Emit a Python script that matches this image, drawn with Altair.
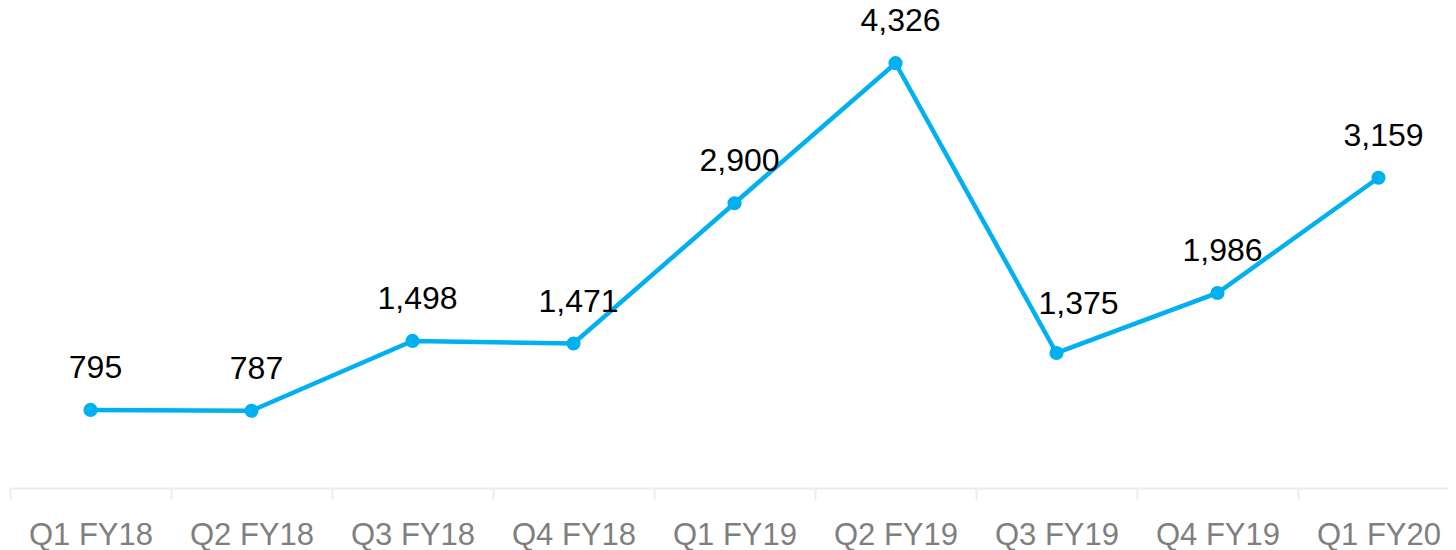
import altair as alt
import pandas as pd

quarters = ["Q1 FY18", "Q2 FY18", "Q3 FY18", "Q4 FY18", "Q1 FY19",
            "Q2 FY19", "Q3 FY19", "Q4 FY19", "Q1 FY20"]
values = [795, 787, 1498, 1471, 2900, 4326, 1375, 1986, 3159]

df = pd.DataFrame({"quarter": quarters, "value": values})

x = alt.X("quarter:N", sort=quarters, title=None,
          scale=alt.Scale(range=[0, 1449], paddingInner=0, paddingOuter=0),
          axis=alt.Axis(labelAngle=0, labelFontSize=31, labelColor="#7f7f7f",
                        labelFont="Liberation Sans", labelPadding=21,
                        domainColor="#ececec", domainWidth=2,
                        tickColor="#ececec", tickWidth=2, tickSize=11,
                        tickBand="extent"))
y = alt.Y("value:Q", title=None,
          scale=alt.Scale(domain=[0, 4827], nice=False, zero=True),
          axis=None)

base = alt.Chart(df).encode(x=x, y=y)

line = base.mark_line(color="#00b0f0", strokeWidth=4.5)
points = base.mark_point(filled=True, color="#00b0f0", size=200, opacity=1)
labels = base.mark_text(fontSize=32, font="Liberation Sans", color="#000000",
                        dx=5, dy=-42, baseline="middle").encode(
    text=alt.Text("value:Q", format=",")
).transform_filter(alt.datum.quarter != "Q3 FY19")
label_special = base.mark_text(fontSize=32, font="Liberation Sans", color="#000000",
                               dx=22, dy=-49, baseline="middle").encode(
    text=alt.Text("value:Q", format=",")
).transform_filter(alt.datum.quarter == "Q3 FY19")

chart = alt.layer(line, points, labels, label_special).properties(
    width=1438, height=474,
    autosize=alt.AutoSizeParams(type="none"),
    padding={"left": 2, "right": 0, "top": 6, "bottom": 62},
).configure_view(stroke=None)

chart.save("out.html", embed_options={"renderer": "svg", "actions": False})
